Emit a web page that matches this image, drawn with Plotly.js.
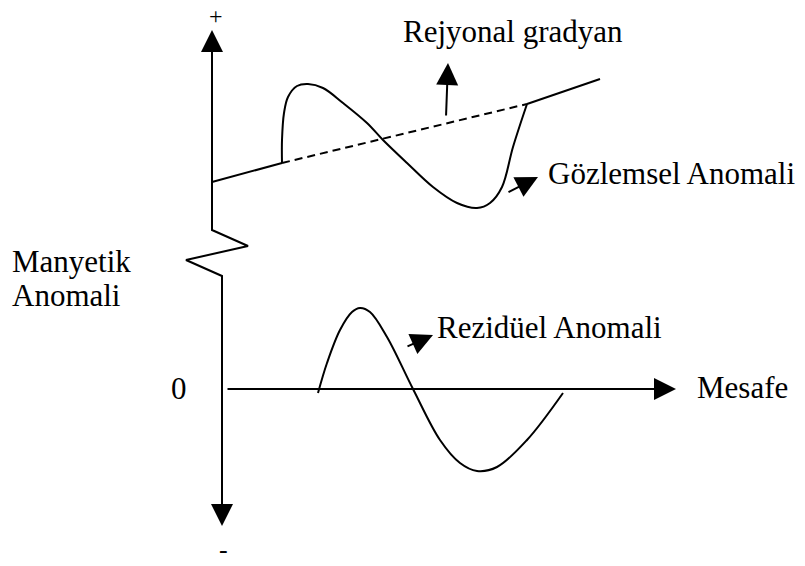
<!DOCTYPE html>
<html>
<head>
<meta charset="utf-8">
<script src="https://cdn.plot.ly/plotly-3.0.1.min.js"></script>
<style>
  html, body { margin: 0; padding: 0; background: #fff; }
  #chart { width: 805px; height: 566px; }
</style>
</head>
<body>
<div id="chart"></div>
<script>
// Schematic units: origin at the 0 of the distance axis, y up = positive anomaly

// Gözlemsel (observed) anomaly
const obsX = [60, 60, 62, 66, 75, 86, 101, 121, 145, 161, 185, 211, 235, 255, 268, 280, 291, 305];
const obsY = [226, 249, 276, 292, 303, 305, 301, 286, 266, 249, 226, 202, 186, 181, 186, 202, 242, 285];

// Rezidüel (residual) anomaly
const resX = [96, 105, 118, 130, 138, 148, 165, 191, 218, 238, 255, 275, 305, 341];
const resY = [-4, 26, 59, 77, 81, 77, 52, 0, -51, -74, -82, -78, -51, -4];

// Rejyonal gradyan: solid left part, dashed middle, solid right part
const regLeftX = [-10, 60];
const regLeftY = [207, 226];
const regMidX = [60, 305];
const regMidY = [226, 285];
const regRightX = [305, 378];
const regRightY = [285, 310];

// broken vertical axis (zigzag)
const zigX = [-10, -10, 26, -36, 0, 0];
const zigY = [350, 159, 143, 129, 113, -120];

// arrows: [tailX, tailY, tipX, tipY]
const arrows = [
  [-10, 200, -10, 359],   // + axis
  [0, 0, 0, -137],        // - axis
  [4, 0, 454, 0],         // Mesafe axis
  [224, 272, 226, 326],   // Rejyonal gradyan pointer
  [285, 196, 316, 212],   // Gözlemsel pointer
  [184, 42, 211, 54]      // Rezidüel pointer
];

// labels: [text, x, y, xanchor, size]
const labels = [
  ['+', -6.5, 373, 'center', 24],
  ['-', 1, -160, 'center', 26],
  ['0', -43, 1, 'center', 31],
  ['Mesafe', 473, 1.5, 'left', 31],
  ['Rejyonal gradyan', 179, 357.5, 'left', 31],
  ['Gözlemsel Anomali', 324, 215.5, 'left', 31],
  ['Rezidüel Anomali', 213, 61.5, 'left', 31],
  ['Manyetik', -212, 127.5, 'left', 31],
  ['Anomali', -212, 93.5, 'left', 31]
];

const black = '#000000';
const fontFamily = '"Liberation Serif", "Times New Roman", serif';

function lineTrace(x, y, opts) {
  return Object.assign({
    x: x, y: y, type: 'scatter', mode: 'lines', hoverinfo: 'skip',
    line: { color: black, width: 2 }
  }, opts || {});
}

const traces = [
  lineTrace(zigX, zigY),
  lineTrace(regLeftX, regLeftY),
  lineTrace(regMidX, regMidY, { line: { color: black, width: 2, dash: '8px,5px' } }),
  lineTrace(regRightX, regRightY),
  lineTrace(obsX, obsY, { line: { color: black, width: 2, shape: 'spline', smoothing: 1 } }),
  lineTrace(resX, resY, { line: { color: black, width: 2, shape: 'spline', smoothing: 1 } })
];

const annotations = arrows.map(a => ({
  x: a[2], y: a[3], ax: a[0], ay: a[1],
  xref: 'x', yref: 'y', axref: 'x', ayref: 'y',
  text: '', showarrow: true,
  arrowhead: 2, arrowsize: 2.2, arrowwidth: 2, arrowcolor: black,
  standoff: 0, startstandoff: 0
})).concat(labels.map(l => ({
  x: l[1], y: l[2], xref: 'x', yref: 'y',
  text: l[0], showarrow: false,
  xanchor: l[3], yanchor: 'middle',
  font: { family: fontFamily, size: l[4], color: black }
})));

const layout = {
  width: 805,
  height: 566,
  margin: { l: 0, r: 0, t: 0, b: 0 },
  paper_bgcolor: '#ffffff',
  plot_bgcolor: '#ffffff',
  showlegend: false,
  xaxis: { range: [-222, 583], visible: false, fixedrange: true },
  yaxis: { range: [-177, 389], visible: false, fixedrange: true },
  annotations: annotations
};

Plotly.newPlot('chart', traces, layout, { displayModeBar: false, staticPlot: true });
</script>
</body>
</html>
